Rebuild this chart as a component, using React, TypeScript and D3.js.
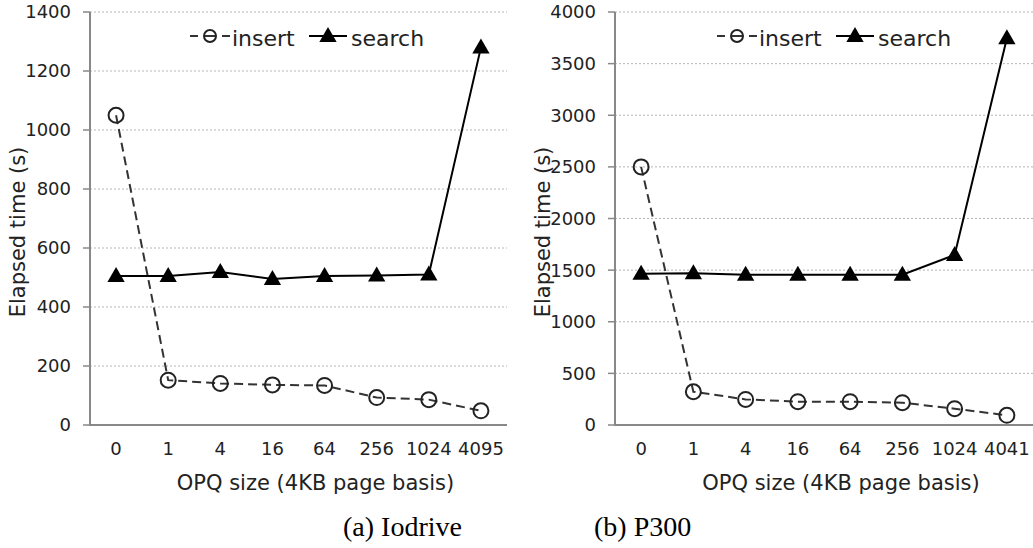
import React from 'react';
import * as d3 from 'd3';

// OPQ sizes on the category axis (last one differs per device)
const catsIodrive = ['0', '1', '4', '16', '64', '256', '1024', '4095'];
const catsP300 = ['0', '1', '4', '16', '64', '256', '1024', '4041'];

const insertIodrive = [1050, 152, 141, 136, 134, 93, 86, 48];
const searchIodrive = [505, 505, 519, 495, 505, 507, 510, 1280];

const insertP300 = [2500, 322, 248, 226, 226, 216, 158, 94];
const searchP300 = [1465, 1470, 1455, 1455, 1455, 1455, 1646, 3745];

const ticksIodrive = [0, 200, 400, 600, 800, 1000, 1200, 1400];
const ticksP300 = [0, 500, 1000, 1500, 2000, 2500, 3000, 3500, 4000];

const SANS = '"DejaVu Sans", Verdana, sans-serif';

const triangle = d3.symbol().type(d3.symbolTriangle).size(130)();

const Panel = (props) => {
  const { left, right, cats, insert, search, ticks, caption, captionX, legendX } = props;
  const top = 12, bottom = 425;

  const x = d3.scaleBand().domain(cats).range([left, right]);
  const y = d3.scaleLinear().domain([0, ticks[ticks.length - 1]]).range([bottom, top]);
  const cx = (i) => x(cats[i]) + x.bandwidth() / 2;

  const line = d3.line().x((d, i) => cx(i)).y(d => y(d));

  return (
    <g>
      {ticks.map(t => (
        <g key={t}>
          {t > 0 && <line x1={left} x2={right} y1={y(t)} y2={y(t)} stroke="#b5b5b5" strokeWidth={1} strokeDasharray="2,2" />}
          <line x1={left - 7} x2={left} y1={y(t)} y2={y(t)} stroke="#888" strokeWidth={1.5} />
          <text x={left - 19} y={y(t)} dy="0.36em" textAnchor="end" fontFamily={SANS} fontSize={18} fill="#222">{t}</text>
        </g>
      ))}
      <line x1={left} x2={left} y1={top} y2={bottom + 1} stroke="#888" strokeWidth={2} />
      <line x1={left} x2={right} y1={bottom} y2={bottom} stroke="#888" strokeWidth={2} />

      {cats.map((c, i) => (
        <text key={c} x={cx(i)} y={455} textAnchor="middle" fontFamily={SANS} fontSize={18} fill="#222">{c}</text>
      ))}

      <text x={(left + right) / 2 + 17} y={490} textAnchor="middle" fontFamily={SANS} fontSize={21} fill="#222">OPQ size (4KB page basis)</text>
      <text transform={`translate(${left - 65},232) rotate(-90)`} textAnchor="middle" fontFamily={SANS} fontSize={21} fill="#222">Elapsed time (s)</text>

      <path d={line(insert)} fill="none" stroke="#333" strokeWidth={2} strokeDasharray="9,5" />
      {insert.map((v, i) => (
        <circle key={i} cx={cx(i)} cy={y(v)} r={7.5} fill="none" stroke="#222" strokeWidth={2} />
      ))}

      <path d={line(search)} fill="none" stroke="#000" strokeWidth={2} />
      {search.map((v, i) => (
        <path key={i} d={triangle} transform={`translate(${cx(i)},${y(v) + 1})`} fill="#000" />
      ))}

      {/* legend */}
      <g transform={`translate(${legendX},36)`}>
        <line x1={0} x2={8} y1={0} y2={0} stroke="#333" strokeWidth={2} />
        <circle cx={20} cy={0} r={6} fill="none" stroke="#222" strokeWidth={2} />
        <line x1={15} x2={25} y1={0} y2={0} stroke="#333" strokeWidth={2} />
        <line x1={32} x2={40} y1={0} y2={0} stroke="#333" strokeWidth={2} />
        <text x={42} y={10} fontFamily={SANS} fontSize={22} fill="#222">insert</text>
        <line x1={119} x2={157} y1={0} y2={0} stroke="#000" strokeWidth={2} />
        <path d={triangle} transform="translate(138,1)" fill="#000" />
        <text x={161} y={10} fontFamily={SANS} fontSize={22} fill="#222">search</text>
      </g>

      <text x={captionX} y={536} fontFamily='"Liberation Serif", "Times New Roman", serif' fontSize={28} fill="#000">{caption}</text>
    </g>
  );
};

export default function App() {
  return (
    <svg width={1033} height={548} style={{ position: 'absolute', left: 0, top: 0, background: '#fff' }}>
      <Panel left={90} right={507} cats={catsIodrive} insert={insertIodrive} search={searchIodrive}
        ticks={ticksIodrive} caption="(a) Iodrive" captionX={343} legendX={190} />
      <Panel left={615} right={1033} cats={catsP300} insert={insertP300} search={searchP300}
        ticks={ticksP300} caption="(b) P300" captionX={594} legendX={717} />
    </svg>
  );
}
